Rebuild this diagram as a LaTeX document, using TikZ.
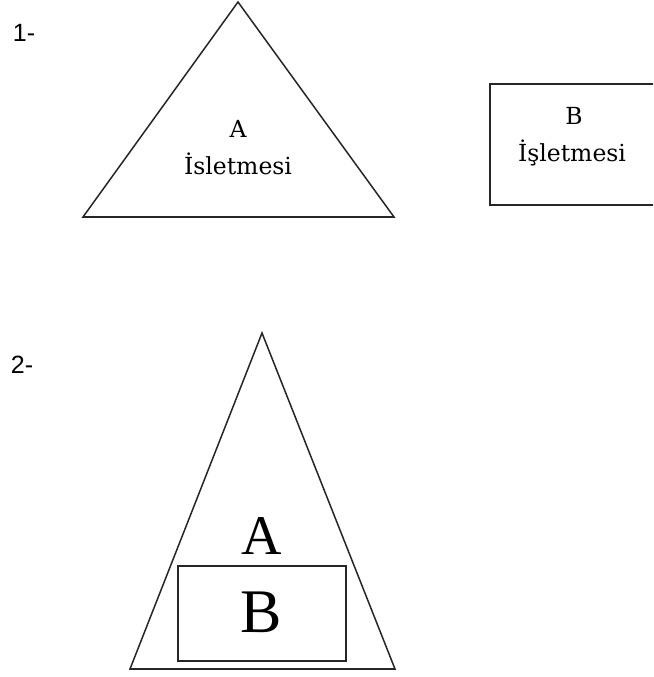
\documentclass[tikz,border=0pt]{standalone}
\usepackage{fontspec}
\newfontfamily\lblfont{DejaVu Serif}
\newfontfamily\bigfont{Liberation Serif}
\newfontfamily\numfont{Liberation Sans}
\begin{document}
\begin{tikzpicture}[x=1pt,y=-1pt,
  shape line/.style={draw=black!85,line width=1.5pt,line join=miter},
  small label/.style={inner sep=0pt,anchor=base,font=\lblfont\fontsize{23.5}{28}\selectfont},
  num label/.style={inner sep=0pt,anchor=base,font=\numfont\fontsize{25}{30}\selectfont},
  big label/.style={inner sep=0pt,anchor=base,font=\bigfont}]
\useasboundingbox (0,0) rectangle (653,677);
\clip (0,0) rectangle (653,677);
\fill[white] (0,0) rectangle (653,677);
% part 1
\node[num label] (n1) at (24,42) {1-};
\coordinate (t1a) at (238,2);
\coordinate (t1l) at (83,217);
\coordinate (t1r) at (394,217);
\draw[shape line] (t1a) -- (t1r) -- (t1l) -- cycle;
\draw[draw=black!85,line width=2.2pt] (t1l) -- (t1r);
\node[small label] (a1) at (238,137) {A};
\node[small label] (a1t) at (238,174) {İsletmesi};
\coordinate (b1tl) at (490,84);
\coordinate (b1br) at (670,205);
\draw[shape line] (b1tl) rectangle (b1br);
\node[small label] (b1) at (574,124) {B};
\node[small label] (b1t) at (572,161) {İşletmesi};
% part 2
\node[num label] (n2) at (22,373) {2-};
\coordinate (t2a) at (262,333);
\coordinate (t2l) at (130,669);
\coordinate (t2r) at (395,669);
\draw[shape line] (t2a) -- (t2r) -- (t2l) -- cycle;
\draw[draw=black!85,line width=2pt] (t2l) -- (t2r);
\coordinate (b2tl) at (178,566);
\coordinate (b2br) at (346,661);
\draw[shape line] (b2tl) rectangle (b2br);
\node[big label,font=\bigfont\fontsize{56}{60}\selectfont] (a2) at (262,554) {A};
\node[big label,font=\bigfont\fontsize{62}{66}\selectfont] (b2) at (261,632) {B};
\end{tikzpicture}
\end{document}
